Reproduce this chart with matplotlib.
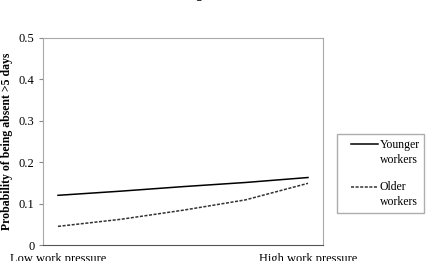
import matplotlib.pyplot as plt
from matplotlib.legend_handler import HandlerBase
from matplotlib.lines import Line2D

plt.rcParams['font.family'] = ['Liberation Serif', 'DejaVu Serif']

# work pressure from low (0) to high (1)
pressure = [0, 0.25, 0.5, 0.75, 1]
younger = [0.120, 0.130, 0.141, 0.151, 0.163]
older = [0.045, 0.062, 0.084, 0.109, 0.149]
xlabels = ['Low work pressure', 'High work pressure']
yticks = [0, 0.1, 0.2, 0.3, 0.4, 0.5]


class TopLineHandler(HandlerBase):
    # line on the first row of a two-line label, sitting at the right of the handle box
    def create_artists(self, legend, orig_handle, xdescent, ydescent,
                       width, height, fontsize, trans):
        y = height / 2 - ydescent + 6
        ln = Line2D([width - 19.5, width], [y, y])
        self.update_prop(ln, orig_handle, legend)
        ln.set_transform(trans)
        return [ln]


fig = plt.figure(figsize=(4.31, 2.61), dpi=100)
ax = fig.add_axes([43/431, 1 - 245/261, 280/431, 207/261])

l1, = ax.plot(pressure, younger, color='black', lw=1.1, label='Younger\nworkers')
l2, = ax.plot(pressure, older, color='#333333', lw=1.1, ls=(0, (2, 1)), label='Older\nworkers')

ax.set_xlim(-0.06, 1.06)
ax.set_ylim(0, 0.5)
ax.set_yticks(yticks)
ax.set_yticklabels(['0'] + ['%.1f' % t for t in yticks[1:]])
ax.set_xticks([0, 1])
ax.set_xticklabels(xlabels)
ax.tick_params(axis='x', length=0, pad=6, labelsize=9)
ax.tick_params(axis='y', length=3, width=0.8, color='#888888', pad=3, labelsize=9)

for s in ['top', 'right', 'left']:
    ax.spines[s].set_color('#a8a8a8')
ax.spines['bottom'].set_color('#555555')

ax.set_ylabel('Probability of being absent >5 days', fontsize=8.5, fontweight='bold', labelpad=4)

fig.text(0.48, 1.02, 'Figure 2', ha='center', va='center', fontsize=9, fontweight='bold')

leg = fig.legend(handles=[l1, l2], loc='upper left', bbox_to_anchor=(337/431, 1 - 134/261),
                 fontsize=8.5, frameon=True, fancybox=False, edgecolor='#999999',
                 handlelength=3.1, handletextpad=0.1, labelspacing=1.3, borderpad=0.4,
                 borderaxespad=0, handler_map={Line2D: TopLineHandler()})
leg.get_frame().set_linewidth(1.0)
for t in leg.get_texts():
    t.set_linespacing(1.35)

plt.savefig('out.png', dpi=100)
